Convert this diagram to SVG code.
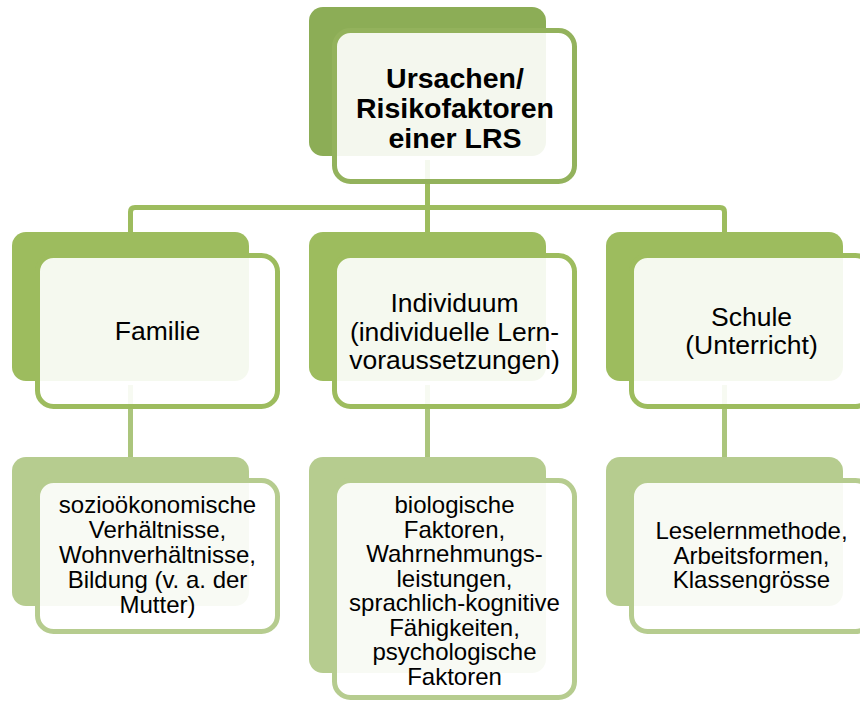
<svg xmlns="http://www.w3.org/2000/svg" width="860" height="702" viewBox="0 0 860 702">
<style>
text{font-family:"Liberation Sans",Arial,sans-serif;fill:#000;text-anchor:middle}
.t0{font-size:28.5px;font-weight:bold}
.t1{font-size:26.5px}
.t2{font-size:24px}
.back0{fill:#8cad56}
.back1{fill:#9dbc5e}
.back2{fill:#b6cc8f}
.front{fill:#fff;fill-opacity:0.9;stroke-width:5}
.f0{stroke:#93b25c}
.f1{stroke:#9dbc5e}
.f2{stroke:#b6cc8f}
.c1{fill:none;stroke:#9dbc5e;stroke-width:5}
.c2{fill:none;stroke:#abc57c;stroke-width:5}
</style>
<rect width="860" height="702" fill="#fff"/>
<g id="connectors">
<path class="c1" d="M427.5,160 V232 M130.5,232 V212 Q130.5,207.5 135,207.5 H720 Q724.5,207.5 724.5,212 V232"/>
<path class="c2" d="M130.5,385 V457 M427.5,385 V457 M724.5,385 V457"/>
</g>
<g id="root">
<rect class="back0" x="309" y="7" width="237" height="149" rx="14"/>
<rect class="front f0" x="334.5" y="30.5" width="240" height="151" rx="16"/>
<text class="t0" x="455" y="88">Ursachen/</text>
<text class="t0" x="455" y="118">Risikofaktoren</text>
<text class="t0" x="455" y="148">einer LRS</text>
</g>
<g id="familie">
<rect class="back1" x="12" y="232" width="237" height="149" rx="14"/>
<rect class="front f1" x="37.5" y="255.5" width="240" height="151" rx="16"/>
<text class="t1" x="157.5" y="339.5">Familie</text>
</g>
<g id="individuum">
<rect class="back1" x="309" y="232" width="237" height="149" rx="14"/>
<rect class="front f1" x="334.5" y="255.5" width="240" height="151" rx="16"/>
<text class="t1" x="454.5" y="312">Individuum</text>
<text class="t1" x="454.5" y="340.5">(individuelle Lern-</text>
<text class="t1" x="454.5" y="369">voraussetzungen)</text>
</g>
<g id="schule">
<rect class="back1" x="606" y="232" width="237" height="149" rx="14"/>
<rect class="front f1" x="631.5" y="255.5" width="240" height="151" rx="16"/>
<text class="t1" x="751.5" y="326">Schule</text>
<text class="t1" x="751.5" y="354">(Unterricht)</text>
</g>
<g id="familie-details">
<rect class="back2" x="12" y="457" width="237" height="149" rx="14"/>
<rect class="front f2" x="37.5" y="480.5" width="240" height="151" rx="16"/>
<text class="t2" x="157.5" y="513">sozioökonomische</text>
<text class="t2" x="157.5" y="538">Verhältnisse,</text>
<text class="t2" x="157.5" y="563">Wohnverhältnisse,</text>
<text class="t2" x="157.5" y="587.5">Bildung (v. a. der</text>
<text class="t2" x="157.5" y="612.5">Mutter)</text>
</g>
<g id="individuum-details">
<rect class="back2" x="309" y="457" width="237" height="216" rx="14"/>
<rect class="front f2" x="334.5" y="480.5" width="240" height="217" rx="16"/>
<text class="t2" x="454.5" y="513">biologische</text>
<text class="t2" x="454.5" y="537.5">Faktoren,</text>
<text class="t2" x="454.5" y="562">Wahrnehmungs-</text>
<text class="t2" x="454.5" y="586.5">leistungen,</text>
<text class="t2" x="454.5" y="611">sprachlich-kognitive</text>
<text class="t2" x="454.5" y="635.5">Fähigkeiten,</text>
<text class="t2" x="454.5" y="660">psychologische</text>
<text class="t2" x="454.5" y="684.5">Faktoren</text>
</g>
<g id="schule-details">
<rect class="back2" x="606" y="457" width="237" height="149" rx="14"/>
<rect class="front f2" x="631.5" y="480.5" width="240" height="151" rx="16"/>
<text class="t2" x="751.5" y="539">Leselernmethode,</text>
<text class="t2" x="751.5" y="563.5">Arbeitsformen,</text>
<text class="t2" x="751.5" y="588">Klassengrösse</text>
</g>
</svg>
